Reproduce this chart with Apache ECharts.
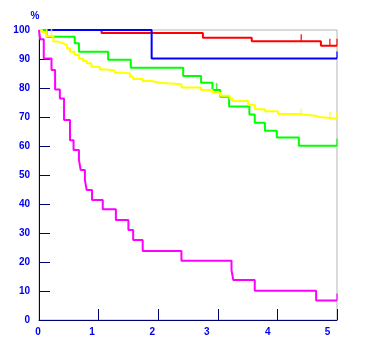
<!DOCTYPE html>
<html>
<head>
<meta charset="utf-8">
<script src="https://cdn.jsdelivr.net/npm/echarts@6/dist/echarts.min.js"></script>
<style>html,body{margin:0;padding:0;background:#fff}#c{width:365px;height:353px}</style>
</head>
<body>
<div id="c"></div>
<script>
// Data (time in years, survival in %)
const xTicks = [0, 1, 2, 3, 4, 5];
const yTicks = [0, 10, 20, 30, 40, 50, 60, 70, 80, 90, 100];

const redT = [0, 1.05, 2.75, 3.57, 4.73, 5];
const redS = [100, 99.0, 97.3, 96.1, 94.6, 94.6];

const blueT = [0, 1.89, 5];
const blueS = [100, 90.2, 90.2];

const greenT = [0, 0.13, 0.60, 0.67, 1.16, 1.54, 2.42, 2.72, 2.91, 3.04, 3.19, 3.53, 3.62, 3.79, 3.99, 4.36, 5];
const greenS = [100, 97.7, 95.4, 92.5, 89.7, 87.0, 84.1, 81.8, 79.3, 77.0, 73.6, 70.9, 68.0, 65.3, 62.9, 60.1, 60.1];

const yellowT = [0, 0.05, 0.12, 0.24, 0.32, 0.41, 0.47, 0.52, 0.60, 0.67, 0.74, 0.80, 0.88, 1.02, 1.13, 1.27, 1.41, 1.53, 1.58, 1.74, 1.89, 2.02, 2.39, 2.72, 2.91, 3.04, 3.20, 3.24, 3.51, 3.62, 3.79, 4.01, 4.35, 4.63, 4.71, 5];
const yellowS = [100, 99.2, 97.9, 96.0, 95.4, 94.8, 93.7, 92.5, 91.4, 90.2, 89.3, 88.5, 87.3, 86.4, 86.0, 85.3, 85.0, 83.9, 83.1, 82.4, 81.8, 81.3, 80.2, 79.3, 78.4, 77.3, 76.4, 75.5, 74.2, 72.7, 72.0, 71.0, 70.4, 70.0, 69.4, 69.4];

const magentaT = [0, 0.02, 0.08, 0.21, 0.27, 0.35, 0.42, 0.52, 0.58, 0.67, 0.70, 0.77, 0.80, 0.89, 1.07, 1.29, 1.50, 1.58, 1.74, 2.39, 3.23, 3.26, 3.62, 4.65, 5];
const magentaS = [100, 96.8, 90.2, 86.2, 79.5, 76.4, 69.0, 62.0, 58.6, 55.2, 51.7, 48.3, 44.8, 41.4, 38.2, 34.5, 31.0, 27.6, 23.8, 20.4, 17.2, 13.8, 10.1, 6.7, 6.7];

// Censor marks
const redCensT = [4.40, 4.88, 5];
const redCensS = [96.1, 94.6, 94.6];
const blueCensT = [5];
const blueCensS = [90.2];
const greenCensT = [2.98, 5];
const greenCensS = [79.3, 60.1];
const yellowCensT = [0.13, 0.21, 4.40, 4.88, 5];
const yellowCensS = [97.9, 97.9, 70.4, 69.4, 69.4];
const magentaCensT = [5];
const magentaCensS = [6.7];

const zip = (a, b) => a.map((v, i) => [v, b[i]]);

const curves = [
  { name: 'red', color: '#ff0000', t: redT, s: redS, ct: redCensT, cs: redCensS },
  { name: 'blue', color: '#0000ff', t: blueT, s: blueS, ct: blueCensT, cs: blueCensS },
  { name: 'green', color: '#00ff00', t: greenT, s: greenS, ct: greenCensT, cs: greenCensS },
  { name: 'yellow', color: '#ffff00', t: yellowT, s: yellowS, ct: yellowCensT, cs: yellowCensS },
  { name: 'magenta', color: '#ff00ff', t: magentaT, s: magentaS, ct: magentaCensT, cs: magentaCensS }
];

const series = [];
curves.forEach((c, i) => {
  series.push({
    type: 'line', step: 'end', data: zip(c.t, c.s), showSymbol: false,
    lineStyle: { color: c.color, width: 2 }, z: 2 + i, silent: true
  });
  series.push({
    type: 'scatter', data: zip(c.ct, c.cs), symbol: 'rect', symbolSize: [1.5, 7],
    symbolOffset: [0, -3.5], itemStyle: { color: c.color }, z: 2 + i, silent: true
  });
});

const labelColor = '#0000ee';
const axisColor = '#000070';
const xPad = { 0: 2, 1: 13, 2: 12, 3: 22, 4: 19, 5: 19 };
const rich = {};
xTicks.forEach(v => { rich['p' + v] = { padding: [0, xPad[v], 0, 0], color: labelColor, fontWeight: 'bold', fontSize: 10, fontFamily: 'Liberation Sans' }; });

const chart = echarts.init(document.getElementById('c'), null, { renderer: 'canvas' });
chart.setOption({
  animation: false,
  backgroundColor: '#ffffff',
  grid: { left: 39, right: 28, top: 30, bottom: 33, show: true, borderColor: '#b4b4b4', borderWidth: 1, outerBoundsMode: 'none' },
  xAxis: {
    type: 'value', min: 0, max: 5, interval: 1,
    axisLine: { show: true, lineStyle: { color: axisColor, width: 1 } },
    axisTick: { show: true, inside: true, length: 11, lineStyle: { color: axisColor } },
    splitLine: { show: false },
    axisLabel: {
      margin: 7, showMaxLabel: true, showMinLabel: true,
      formatter: v => '{p' + v + '|' + v + '}', rich: rich
    }
  },
  yAxis: {
    type: 'value', min: 0, max: 100, interval: 10,
    name: '%', nameLocation: 'end', nameGap: 9,
    nameTextStyle: { color: labelColor, fontWeight: 'bold', fontSize: 10, fontFamily: 'Liberation Sans', padding: [0, 8, 0, 0] },
    axisLine: { show: true, lineStyle: { color: axisColor, width: 1 } },
    axisTick: { show: true, inside: true, length: 11, lineStyle: { color: axisColor } },
    splitLine: { show: false },
    axisLabel: { margin: 9, color: labelColor, fontWeight: 'bold', fontSize: 10, fontFamily: 'Liberation Sans', showMaxLabel: true }
  },
  series: series
});
</script>
</body>
</html>
